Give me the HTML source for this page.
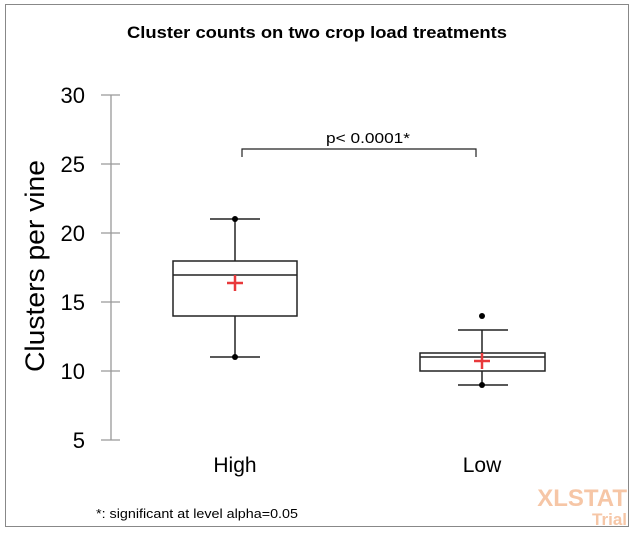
<!DOCTYPE html>
<html><head><style>body{margin:0;background:#fff}</style></head><body>
<svg width="640" height="536" xmlns="http://www.w3.org/2000/svg" font-family="Liberation Sans, sans-serif">
<rect x="5.5" y="4.5" width="623" height="522" fill="#fff" stroke="#888" stroke-width="1"/>
<text x="127" y="38" font-size="16.5" font-weight="bold" textLength="380" lengthAdjust="spacingAndGlyphs">Cluster counts on two crop load treatments</text>
<g stroke="#999" stroke-width="1.3">
<line x1="111" y1="95" x2="111" y2="440"/>
<line x1="101" y1="95" x2="120" y2="95"/><line x1="101" y1="164" x2="120" y2="164"/>
<line x1="101" y1="233" x2="120" y2="233"/><line x1="101" y1="302" x2="120" y2="302"/>
<line x1="101" y1="371" x2="120" y2="371"/><line x1="101" y1="440" x2="120" y2="440"/>
</g>
<g font-size="22" text-anchor="end">
<text x="85" y="103">30</text><text x="85" y="172">25</text><text x="85" y="241">20</text>
<text x="85" y="310">15</text><text x="85" y="379">10</text><text x="85" y="448">5</text>
</g>
<text transform="translate(44,266) rotate(-90)" font-size="27" text-anchor="middle" textLength="212" lengthAdjust="spacingAndGlyphs">Clusters per vine</text>
<g stroke="#222" stroke-width="1.5" fill="none">
<line x1="235" y1="219" x2="235" y2="261"/><line x1="235" y1="316" x2="235" y2="357"/>
<line x1="210" y1="219" x2="260" y2="219"/><line x1="210" y1="357" x2="260" y2="357"/>
<rect x="173" y="261" width="124" height="55" fill="#fff"/><line x1="173" y1="275" x2="297" y2="275"/>
<line x1="482" y1="330" x2="482" y2="353"/><line x1="482" y1="371" x2="482" y2="385"/>
<line x1="458" y1="330" x2="508" y2="330"/><line x1="458" y1="385" x2="508" y2="385"/>
<rect x="420" y="353" width="125" height="18" fill="#fff"/><line x1="420" y1="357" x2="545" y2="357"/>
<polyline points="242,157 242,149 476,149 476,157" stroke-width="1.2"/>
</g>
<g fill="#000"><circle cx="235" cy="219" r="3"/><circle cx="235" cy="357" r="3"/>
<circle cx="482" cy="316" r="3"/><circle cx="482" cy="385" r="3"/></g>
<g stroke="#e8393b" stroke-width="2.5">
<line x1="227" y1="283" x2="243" y2="283"/><line x1="235" y1="275" x2="235" y2="291"/>
<line x1="474" y1="361" x2="490" y2="361"/><line x1="482" y1="353" x2="482" y2="369"/>
</g>
<text x="326" y="143" font-size="15" textLength="84" lengthAdjust="spacingAndGlyphs">p&lt; 0.0001*</text>
<text x="235" y="472" font-size="21" text-anchor="middle">High</text>
<text x="482" y="472" font-size="21" text-anchor="middle">Low</text>
<text x="96" y="518" font-size="13" textLength="202" lengthAdjust="spacingAndGlyphs">*: significant at level alpha=0.05</text>
<text x="627" y="506" font-size="24" font-weight="bold" fill="#f6c6a6" text-anchor="end">XLSTAT</text>
<text x="627" y="525" font-size="17" font-weight="bold" fill="#f6c6a6" text-anchor="end">Trial</text>
</svg>
</body></html>
